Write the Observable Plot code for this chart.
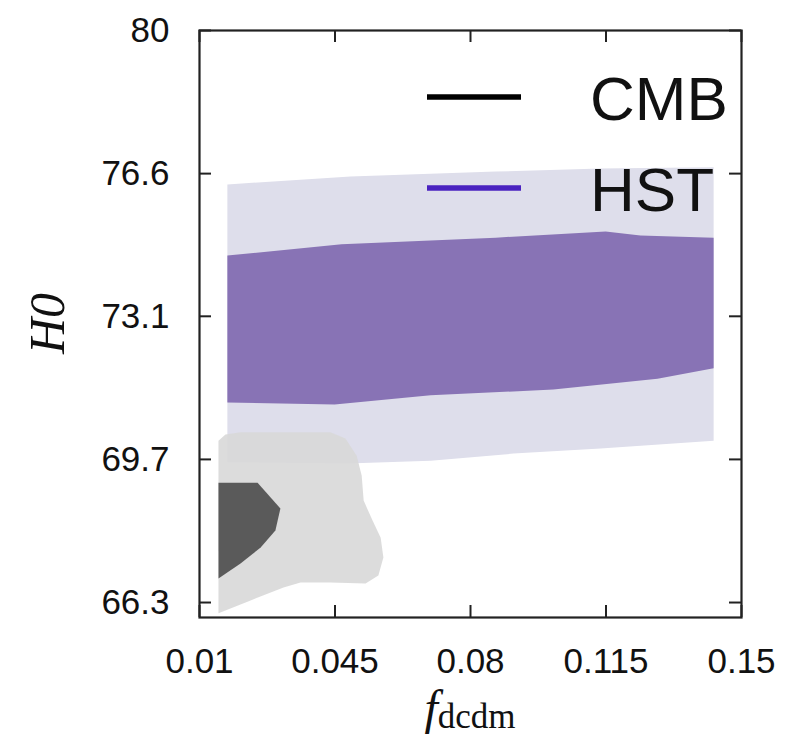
<!DOCTYPE html>
<html>
<head>
<meta charset="utf-8">
<script src="https://cdn.jsdelivr.net/npm/d3@7"></script>
<script src="https://cdn.jsdelivr.net/npm/@observablehq/plot@0.6"></script>
<style>
  html, body { margin: 0; padding: 0; background: #fff; }
  #chart { width: 804px; height: 739px; }
</style>
</head>
<body>
<div id="chart"></div>
<script>
// ---- tick values & labels ----
const xTicks = [0.01, 0.045, 0.08, 0.115, 0.15];
const xTickLabels = ["0.01", "0.045", "0.08", "0.115", "0.15"];
const yTicks = [66.25, 69.69, 73.13, 76.56, 80];
const yTickLabels = ["66.3", "69.7", "73.1", "76.6", "80"];

// ---- contour outlines [f_dcdm, H0] ----
const hstOuter = [
  [0.0172, 76.30], [0.0490, 76.49], [0.0865, 76.61], [0.1136, 76.68], [0.1428, 76.71],
  [0.1428, 70.14], [0.1136, 69.95], [0.0911, 69.83], [0.0697, 69.66], [0.0482, 69.59], [0.0172, 69.62]
];
const hstInner = [
  [0.0172, 74.59], [0.0467, 74.86], [0.0865, 75.02], [0.1149, 75.17], [0.1239, 75.07], [0.1428, 75.02],
  [0.1428, 71.88], [0.1283, 71.63], [0.1014, 71.37], [0.0697, 71.23], [0.0449, 71.01], [0.0172, 71.06]
];
const cmbOuter = [
  [0.0149, 65.99], [0.0149, 70.14], [0.0167, 70.29], [0.0206, 70.34], [0.0438, 70.34],
  [0.0477, 70.19], [0.0506, 69.78], [0.0519, 69.30], [0.0524, 68.70], [0.0547, 68.22],
  [0.0568, 67.81], [0.0575, 67.33], [0.0562, 66.90], [0.0529, 66.71], [0.0438, 66.73],
  [0.0361, 66.73], [0.0317, 66.61], [0.0232, 66.30]
];
const cmbInner = [
  [0.0149, 69.13], [0.0250, 69.13], [0.0309, 68.51], [0.0296, 67.98],
  [0.0258, 67.57], [0.0206, 67.19], [0.0149, 66.83]
];

// ---- legend ----
const legendLabels = ["CMB", "HST"];
const legendColors = ["#000000", "#4a22c0"];

const W = 804, H = 739;
const mL = 199, mR = 63, mT = 30, mB = 122;
const innerH = H - mT - mB;
const innerW = W - mL - mR;

const poly = (pts, fill, extra = {}) =>
  Plot.line(pts, {x: d => d[0], y: d => d[1], fill, stroke: "none", curve: "linear-closed", ...extra});

const legendMark = (index, scales, values, dims) => {
  const g = d3.create("svg:g");
  const right = dims.width - dims.marginRight;
  legendLabels.forEach((lab, i) => {
    const yLine = dims.marginTop + 67 + i * 91;
    g.append("line")
      .attr("x1", right - 314).attr("x2", right - 220)
      .attr("y1", yLine).attr("y2", yLine)
      .attr("stroke", legendColors[i]).attr("stroke-width", 5.5);
    g.append("text")
      .attr("x", right - 151).attr("y", yLine + 23)
      .attr("text-anchor", "start")
      .attr("font-size", 62)
      .attr("font-family", "'Liberation Sans', Arial, sans-serif")
      .attr("fill", "#111")
      .text(lab);
  });
  return g.node();
};

const labelMark = (index, scales, values, dims) => {
  const g = d3.create("svg:g");
  const cx = dims.marginLeft + (dims.width - dims.marginLeft - dims.marginRight) / 2;
  const xt = g.append("text")
    .attr("x", cx).attr("y", 724)
    .attr("text-anchor", "middle")
    .attr("font-family", "'Liberation Serif', 'Times New Roman', serif")
    .attr("fill", "#111");
  xt.append("tspan").attr("font-style", "italic").attr("font-size", 48).text("f");
  xt.append("tspan").attr("font-size", 35).attr("dy", 4).text("dcdm");
  const cy = dims.marginTop + (dims.height - dims.marginTop - dims.marginBottom) / 2;
  g.append("text")
    .attr("transform", `translate(64,${cy}) rotate(-90)`)
    .attr("text-anchor", "middle")
    .attr("font-family", "'Liberation Serif', 'Times New Roman', serif")
    .attr("font-style", "italic")
    .attr("font-size", 50)
    .attr("fill", "#111")
    .text("H0");
  return g.node();
};

const chart = Plot.plot({
  width: W, height: H,
  marginLeft: mL, marginRight: mR, marginTop: mT, marginBottom: mB,
  style: {fontFamily: "'Liberation Sans', Arial, sans-serif", background: "#fff", color: "#111"},
  x: {domain: [0.01, 0.15]},
  y: {domain: [65.89, 80]},
  marks: [
    poly(hstOuter, "#dedeeb"),
    poly(hstInner, "#8873b5"),
    poly(cmbOuter, "#d8d8d8", {fillOpacity: 0.9}),
    poly(cmbInner, "#5a5a5a"),
    // inward ticks
    Plot.tickX(xTicks, {x: d => d, insetTop: innerH - 12, stroke: "#222", strokeWidth: 2}),
    Plot.tickX(xTicks, {x: d => d, insetBottom: innerH - 12, stroke: "#222", strokeWidth: 2}),
    Plot.tickY(yTicks, {y: d => d, insetRight: innerW - 12, stroke: "#222", strokeWidth: 2}),
    Plot.tickY(yTicks, {y: d => d, insetLeft: innerW - 12, stroke: "#222", strokeWidth: 2}),
    Plot.axisX({ticks: xTicks, tickSize: 0, tickPadding: 31, fontSize: 35,
      tickFormat: (d) => xTickLabels[xTicks.indexOf(d)], label: null}),
    Plot.axisY({ticks: yTicks, tickSize: 0, tickPadding: 30, fontSize: 35,
      tickFormat: (d) => yTickLabels[yTicks.indexOf(d)], label: null}),
    Plot.frame({stroke: "#222", strokeWidth: 2.2}),
    legendMark,
    labelMark
  ]
});

document.getElementById("chart").appendChild(chart);
</script>
</body>
</html>
